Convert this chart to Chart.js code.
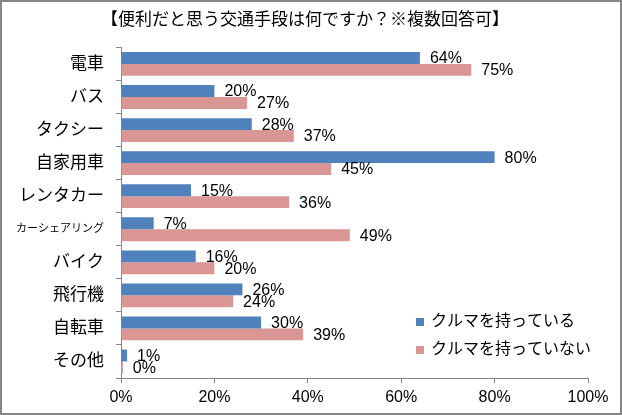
<!DOCTYPE html>
<html>
<head>
<meta charset="utf-8">
<script src="https://cdn.jsdelivr.net/npm/chart.js@4"></script>
<style>
html,body{margin:0;padding:0;background:#fff;}
#wrap{width:622px;height:415px;}
</style>
</head>
<body>
<div id="wrap"><canvas id="c" width="622" height="415"></canvas></div>
<script>
const titleText = '【便利だと思う交通手段は何ですか？※複数回答可】';
const categories = ['電車','バス','タクシー','自家用車','レンタカー','カーシェアリング','バイク','飛行機','自転車','その他'];
const seriesNames = ['クルマを持っている','クルマを持っていない'];
const ownCar = [64,20,28,80,15,7,16,26,30,1.3];
const noCar = [75,27,37,45,36,49,20,24,39,0.4];
const xTicks = [0,20,40,60,80,100];

const FONT = "'Liberation Sans','Noto Sans CJK JP',sans-serif";
const AXIS = '#868686';

const framePlugin = {
  id:'frame',
  beforeDraw(chart){
    const ctx = chart.ctx;
    ctx.save();
    ctx.fillStyle = '#fff';
    ctx.fillRect(0,0,chart.width,chart.height);
    ctx.restore();
  },
  afterDraw(chart){
    const ctx = chart.ctx;
    ctx.save();
    ctx.strokeStyle = AXIS;
    ctx.lineWidth = 2;
    ctx.strokeRect(1,1,chart.width-2,chart.height-2);
    ctx.restore();
  }
};

const labelPlugin = {
  id:'vlabels',
  afterDatasetsDraw(chart){
    const ctx = chart.ctx;
    ctx.save();
    ctx.font = '16px ' + FONT;
    ctx.fillStyle = '#000';
    ctx.textAlign = 'left';
    ctx.textBaseline = 'middle';
    chart.data.datasets.forEach((ds, di) => {
      const meta = chart.getDatasetMeta(di);
      meta.data.forEach((el, i) => {
        const v = ds.data[i];
        ctx.fillText(Math.round(v) + '%', el.x + 10, el.y + 1);
      });
    });
    ctx.restore();
  }
};

const legendPlugin = {
  id:'ilegend',
  afterDraw(chart){
    const ctx = chart.ctx;
    ctx.save();
    ctx.font = '16px ' + FONT;
    ctx.textAlign = 'left';
    ctx.textBaseline = 'middle';
    const rows = [322, 350];
    chart.data.datasets.forEach((ds, di) => {
      const y = rows[di];
      ctx.fillStyle = ds.backgroundColor;
      ctx.fillRect(416, y - 4, 8, 8);
      ctx.fillStyle = '#000';
      ctx.fillText(ds.label, 431, y);
    });
    ctx.restore();
  }
};

new Chart(document.getElementById('c'), {
  type:'bar',
  data:{
    labels: categories,
    datasets:[
      {label: seriesNames[0], data: ownCar, backgroundColor:'#4F81BD', categoryPercentage:0.72, barPercentage:1.0},
      {label: seriesNames[1], data: noCar, backgroundColor:'#D99694', categoryPercentage:0.72, barPercentage:1.0}
    ]
  },
  options:{
    indexAxis:'y',
    responsive:false,
    animation:false,
    devicePixelRatio:1,
    layout:{padding:{left:0,right:12,top:0,bottom:0}},
    plugins:{
      legend:{display:false},
      tooltip:{enabled:false},
      title:{
        display:true,
        text:titleText,
        color:'#000',
        font:{family:FONT,size:17,weight:'normal'},
        padding:{top:10,bottom:17}
      }
    },
    scales:{
      x:{
        min:0,max:100,
        afterBuildTicks(s){ s.ticks = xTicks.map(v=>({value:v})); },
        afterFit(s){ s.height = 37; },
        grid:{drawOnChartArea:false,color:AXIS,tickLength:5},
        border:{color:AXIS,width:1},
        ticks:{color:'#000',padding:5,font:{family:FONT,size:16},callback:v=>v+'%'}
      },
      y:{
        afterFit(s){ s.width = 121; },
        grid:{drawOnChartArea:false,color:AXIS,tickLength:5,offset:true},
        border:{color:AXIS,width:1},
        ticks:{color:'#000',padding:12,
          font:(ctx)=>({family:FONT,size:(categories[ctx.index]||'').length>6?11:17})}
      },
      yRight:{
        type:'category',
        position:'right',
        afterFit(s){ s.width = 22; },
        grid:{display:false},
        border:{display:false},
        ticks:{display:false}
      }
    }
  },
  plugins:[framePlugin,labelPlugin,legendPlugin]
});
</script>
</body>
</html>
